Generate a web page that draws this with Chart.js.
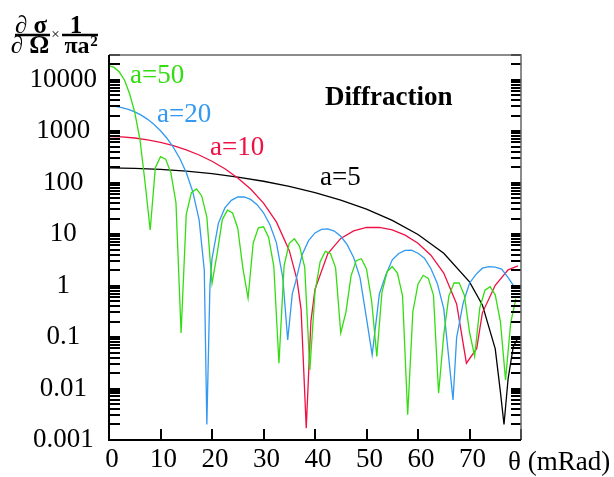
<!DOCTYPE html>
<html>
<head>
<meta charset="utf-8">
<script src="https://cdn.jsdelivr.net/npm/chart.js@4.4.1/dist/chart.umd.min.js"></script>
<style>
  html, body { margin: 0; padding: 0; background: #fff; }
  canvas { display: block; }
</style>
</head>
<body>
<canvas id="chart" width="614" height="477" style="width:614px;height:477px"></canvas>
<script>
// theta in mRad, cross section x 1/(pi a^2)
const thetaA5 = [0, 5, 10, 15, 20, 25, 30, 35, 40, 45, 50, 55, 60, 65, 70, 72.5, 75, 76, 76.7, 77.5, 78.5, 79.5];
const sigA5 = [192, 189, 180, 167, 149, 128, 106, 84.4, 63.9, 45.6, 30.4, 18.4, 9.81, 4.23, 1.18, 0.42, 0.059, 0.0086, 0.002, 0.0156, 0.065, 0.1];

const thetaA10 = [0, 2.5, 5, 7.5, 10, 12.5, 15, 17.5, 20, 22.5, 25, 27.5, 30, 32.5, 35, 36.5, 37.3, 38.3, 39.2,
  40, 42.5, 45, 47.5, 50, 52.5, 55, 57.5, 60, 62.5, 65, 67.5, 69.4, 71.4, 72.5, 75, 77.5, 79.4];
const sigA10 = [780, 768, 733, 677, 604, 521, 432, 343, 259, 185, 123, 74.9, 39.9, 17.2, 4.81, 1.3, 0.34, 0.0017, 0.2,
  0.85, 4.18, 8.23, 11.55, 13.4, 13.45, 12.0, 9.52, 6.64, 3.89, 1.75, 0.44, 0.031, 0.06, 0.295, 1.01, 2.02, 2.4];

const thetaA20 = [0, 1.25, 2.5, 3.75, 5, 6.25, 7.5, 8.75, 10, 11.25, 12.5, 13.75, 15, 16.25, 17.5, 18.5, 19, 19.6,
  20, 21.25, 22.5, 23.75, 25, 26.25, 27.5, 28.75, 30, 31.25, 32.5, 33.75, 34.7, 35.6, 36.25,
  37.5, 38.75, 40, 41.25, 42.5, 43.75, 45, 46.25, 47.5, 48.75, 50, 51.1,
  52.5, 53.75, 55, 56.25, 57.5, 58.75, 60, 61.25, 62.5, 63.75, 65, 66.8,
  67.5, 68.75, 70, 71.25, 72.5, 73.75, 75, 76.25, 77.5, 79];
const sigA20 = [3050, 3003, 2865, 2645, 2363, 2036, 1688, 1341, 1014, 725, 482, 293, 156, 67.1, 18.8, 2.0, 0.002, 1.0,
  3.3, 16.3, 32.2, 45.2, 52.4, 52.6, 47.0, 37.2, 25.9, 15.2, 6.83, 1.4, 0.088, 0.7, 1.2,
  3.97, 7.44, 10.5, 12.3, 12.6, 11.4, 9.06, 6.23, 3.52, 1.41, 0.231, 0.045,
  0.69, 1.6, 3.15, 4.2, 4.81, 4.85, 4.23, 3.4, 2.14, 1.1, 0.357, 0.006,
  0.097, 0.45, 1.11, 1.65, 2.17, 2.33, 2.28, 2.09, 1.42, 0.85];

// a=50 is sampled every 1 mRad from 0 to 79
const thetaA50 = Array.from({ length: 80 }, (_, i) => i);
const sigA50 = [
  18500, 17200, 14000, 9800, 5300, 2300, 700, 100, 12, 195,
  318, 285, 157, 41, 0.12, 24, 63.6, 75, 55, 21.3,
  1.1, 4.18, 19.1, 29.2, 25.6, 13.0, 2.16, 0.57, 6.72, 13.2,
  13.8, 8.6, 2.36, 0.031, 2.44, 6.62, 8.07, 5.77, 2.29, 0.023,
  0.75, 2.9, 4.6, 4.2, 2.2, 0.12, 0.3, 1.54, 3.04, 3.31,
  2.10, 0.5, 0.042, 0.74, 1.85, 2.34, 1.75, 0.63, 0.0031, 0.31,
  1.06, 1.58, 1.38, 0.65, 0.0081, 0.11, 0.63, 1.12, 1.13, 0.65,
  0.126, 0.042, 0.37, 0.81, 0.95, 0.66, 0.20, 0.0147, 0.19, 0.55
];

const yDecades = [0.001, 0.01, 0.1, 1, 10, 100, 1000, 10000];

const SERIF = '"Liberation Serif", "Times New Roman", serif';

function series(label, xs, ys, color) {
  return {
    label,
    data: xs.map((t, i) => ({ x: t, y: ys[i] })),
    borderColor: color,
    backgroundColor: color,
    borderWidth: 1.3,
    pointRadius: 0,
    tension: 0,
    fill: false
  };
}

// frame, inward ticks and the texts drawn on top
const decor = {
  id: "decor",
  afterDatasetsDraw(chart) {
    const { ctx, chartArea: a, scales: { x, y } } = chart;
    ctx.save();

    // y ticks, both sides
    ctx.strokeStyle = "#000";
    ctx.lineWidth = 2;
    for (let d = -3; d <= 4; d++) {
      for (let m = 1; m <= 9; m++) {
        const v = m * Math.pow(10, d);
        if (v > y.max) continue;
        const py = Math.round(y.getPixelForValue(v));
        ctx.beginPath();
        ctx.moveTo(a.left, py); ctx.lineTo(a.left + 11, py);
        ctx.moveTo(a.right, py); ctx.lineTo(a.right - 10, py);
        ctx.stroke();
      }
    }
    // x ticks
    for (let v = 0; v <= 80; v += 10) {
      const px = Math.round(x.getPixelForValue(v));
      ctx.beginPath();
      ctx.moveTo(px, a.bottom); ctx.lineTo(px, a.bottom - 11);
      ctx.stroke();
    }

    // frame
    ctx.strokeStyle = "#666";
    ctx.lineWidth = 1.5;
    ctx.beginPath();
    ctx.moveTo(a.left, a.top); ctx.lineTo(a.right, a.top); ctx.lineTo(a.right, a.bottom);
    ctx.stroke();
    ctx.strokeStyle = "#000";
    ctx.lineWidth = 2;
    ctx.beginPath();
    ctx.moveTo(a.left, a.top); ctx.lineTo(a.left, a.bottom); ctx.lineTo(a.right, a.bottom);
    ctx.stroke();

    // curve labels
    ctx.textBaseline = "alphabetic";
    ctx.textAlign = "left";
    ctx.font = "27px " + SERIF;
    ctx.fillStyle = "#33dd11"; ctx.fillText("a=50", 130, 83);
    ctx.fillStyle = "#3399f0"; ctx.fillText("a=20", 157, 121.5);
    ctx.fillStyle = "#ee1144"; ctx.fillText("a=10", 210, 155);
    ctx.fillStyle = "#000"; ctx.fillText("a=5", 320, 185);
    ctx.fillText("\u03b8 (mRad)", 508, 470);

    ctx.font = "bold 27px " + SERIF;
    ctx.fillText("Diffraction", 325, 104.5);

    // y title: d sigma / d Omega x 1 / (pi a^2)
    ctx.font = "bold 25px " + SERIF;
    ctx.textAlign = "center";
    ctx.fillText("\u2202 \u03c3", 31, 33);
    ctx.fillText("\u2202 \u03a9", 30, 53);
    ctx.fillText("1", 76, 33);
    ctx.font = "bold 24px " + SERIF;
    ctx.fillText("\u03c0a", 77, 53);
    ctx.font = "bold 15px " + SERIF;
    ctx.fillText("2", 94, 46);
    ctx.font = "15px " + SERIF;
    ctx.fillText("\u00d7", 55.5, 39);
    ctx.lineWidth = 2.4;
    ctx.beginPath();
    ctx.moveTo(15, 35); ctx.lineTo(50, 35);
    ctx.moveTo(62, 35); ctx.lineTo(98, 35);
    ctx.stroke();

    ctx.restore();
  }
};

const tickFont = { family: SERIF, size: 27 };

new Chart(document.getElementById("chart").getContext("2d"), {
  type: "line",
  data: {
    datasets: [
      series("a=50", thetaA50, sigA50, "#33dd11"),
      series("a=20", thetaA20, sigA20, "#3399f0"),
      series("a=10", thetaA10, sigA10, "#ee1144"),
      series("a=5", thetaA5, sigA5, "#000000")
    ]
  },
  options: {
    responsive: false,
    animation: false,
    devicePixelRatio: 1,
    layout: { padding: { top: 55, right: 93, left: 0, bottom: 0 } },
    plugins: { legend: { display: false }, tooltip: { enabled: false } },
    scales: {
      x: {
        type: "linear",
        min: 0,
        max: 80,
        grid: { display: false, drawTicks: false },
        border: { display: false },
        ticks: {
          stepSize: 10,
          autoSkip: false,
          maxRotation: 0,
          padding: 4,
          labelOffset: 3,
          color: "#000",
          font: tickFont,
          callback: v => (v < 80 ? String(v) : "")
        },
        afterFit: s => { s.height = 37; }
      },
      y: {
        type: "logarithmic",
        min: 0.001,
        max: 30000,
        grid: { display: false, drawTicks: false },
        border: { display: false },
        afterBuildTicks: s => { s.ticks = yDecades.map(v => ({ value: v })); },
        ticks: {
          crossAlign: "center",
          padding: 12,
          color: "#000",
          font: tickFont,
          callback: v => String(v)
        },
        afterFit: s => { s.width = 109; }
      }
    }
  },
  plugins: [decor]
});
</script>
</body>
</html>
